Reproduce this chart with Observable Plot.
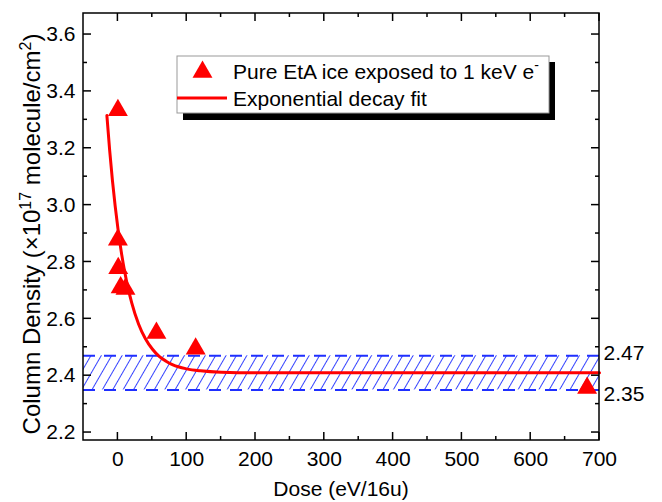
<!DOCTYPE html>
<html><head><meta charset="utf-8">
<script src="https://cdn.jsdelivr.net/npm/d3@7"></script>
<script src="https://cdn.jsdelivr.net/npm/@observablehq/plot@0.6"></script>
<style>body{margin:0;background:#fff}#chart svg{display:block}</style>
</head><body><div id="chart"></div>
<script>
// ---- data ----
const doses = [0, 0, 0.5, 4, 11, 56, 113, 682];
const densities = [3.334, 2.878, 2.778, 2.71, 2.705, 2.55, 2.495, 2.357];
const fitDoses = [-16, -12, -8, -4, 0, 5, 10, 15, 20, 30, 40, 50, 60, 70, 80, 100, 120, 150, 200, 300, 700];
const fitValues = [3.315, 3.193, 3.088, 2.997, 2.918, 2.834, 2.764, 2.706, 2.657, 2.582, 2.530, 2.494, 2.468, 2.451, 2.438, 2.424, 2.417, 2.412, 2.410, 2.410, 2.410];
const bandLow = 2.35;
const bandHigh = 2.47;
const bandLowLabel = "2.35";
const bandHighLabel = "2.47";
const xTicks = [0, 100, 200, 300, 400, 500, 600, 700];
const xMinor = [50, 150, 250, 350, 450, 550, 650];
const yTicks = [2.2, 2.4, 2.6, 2.8, 3.0, 3.2, 3.4, 3.6];
const yMinor = [2.3, 2.5, 2.7, 2.9, 3.1, 3.3, 3.5];
const xDomain = [-50, 700];
const yDomain = [2.172, 3.674];
const legendScatter = "Pure EtA ice exposed to 1 keV e";
const legendScatterSup = "-";
const legendFit = "Exponential decay fit";
const xTitle = "Dose (eV/16u)";

const points = doses.map((d, i) => ({dose: d, value: densities[i]}));
const fit = fitDoses.map((d, i) => ({dose: d, value: fitValues[i]}));

const RED = "#ff0000", BLUE = "#1f2fff", FONT = "'Liberation Sans', Arial, sans-serif";

function hatchDefs() {
  const defs = d3.create("svg:defs");
  const p = defs.append("pattern").attr("id", "hatch").attr("patternUnits", "userSpaceOnUse")
    .attr("width", 9).attr("height", 9).attr("patternTransform", "rotate(30)");
  p.append("line").attr("x1", 4.5).attr("y1", -1).attr("x2", 4.5).attr("y2", 10)
    .attr("stroke", BLUE).attr("stroke-width", 0.9);
  return defs.node();
}

function frameTicks(index, scales, values, dims) {
  const {x, y} = scales;
  const L = dims.marginLeft, T = dims.marginTop, R = dims.width - dims.marginRight, B = dims.height - dims.marginBottom;
  const g = d3.create("svg:g").attr("stroke", "black").attr("stroke-width", 1.5).attr("fill", "none");
  const tick = (x1, y1, x2, y2) => g.append("line").attr("x1", x1).attr("y1", y1).attr("x2", x2).attr("y2", y2);
  for (const t of xTicks) { const px = x(t); tick(px, B, px, B - 8); tick(px, T, px, T + 8); }
  for (const t of xMinor) { const px = x(t); tick(px, B, px, B - 4); tick(px, T, px, T + 4); }
  for (const t of yTicks) { const py = y(t); tick(L, py, L + 8, py); tick(R, py, R - 8, py); }
  for (const t of yMinor) { const py = y(t); tick(L, py, L + 4, py); tick(R, py, R - 4, py); }
  g.append("rect").attr("x", L).attr("y", T).attr("width", R - L).attr("height", B - T);
  return g.node();
}

function titles(index, scales, values, dims) {
  const L = dims.marginLeft, R = dims.width - dims.marginRight;
  const g = d3.create("svg:g").attr("font-family", FONT).attr("fill", "black").attr("text-anchor", "middle");
  g.append("text").attr("x", (L + R) / 2).attr("y", 496).attr("font-size", 21).text(xTitle);
  const t = g.append("text").attr("transform", "translate(40,234) rotate(-90)").attr("font-size", 24);
  t.append("tspan").text("Column Density (\u00d710");
  t.append("tspan").attr("font-size", 16).attr("dy", -9).text("17");
  t.append("tspan").attr("dy", 9).text(" molecule/cm");
  t.append("tspan").attr("font-size", 16).attr("dy", -9).text("2");
  t.append("tspan").attr("dy", 9).text(")");
  return g.node();
}

function legend() {
  const g = d3.create("svg:g").attr("font-family", FONT).attr("font-size", 21).attr("text-anchor", "start");
  g.append("rect").attr("x", 183).attr("y", 62).attr("width", 372).attr("height", 58).attr("fill", "black");
  g.append("rect").attr("x", 177).attr("y", 56).attr("width", 372).attr("height", 57).attr("fill", "white")
    .attr("stroke", "#999").attr("stroke-width", 1);
  g.append("path").attr("transform", "translate(202.5,72)")
    .attr("d", d3.symbol(d3.symbolTriangle, Math.PI * 7.4 * 7.4)()).attr("fill", RED);
  const t1 = g.append("text").attr("x", 233).attr("y", 79);
  t1.append("tspan").text(legendScatter);
  t1.append("tspan").attr("font-size", 14).attr("dy", -9).text(legendScatterSup);
  g.append("line").attr("x1", 177).attr("x2", 227).attr("y1", 98).attr("y2", 98).attr("stroke", RED).attr("stroke-width", 3);
  g.append("text").attr("x", 233).attr("y", 106).text(legendFit);
  return g.node();
}

const chart = Plot.plot({
  width: 662, height: 502,
  marginLeft: 83, marginRight: 63, marginTop: 13, marginBottom: 62,
  style: {fontFamily: FONT, fontSize: "21px", background: "white", color: "black"},
  x: {domain: xDomain},
  y: {domain: yDomain},
  marks: [
    hatchDefs,
    Plot.rect([{y1: bandLow, y2: bandHigh}], {y1: "y1", y2: "y2", fill: "url(#hatch)"}),
    Plot.ruleY([bandLow, bandHigh], {stroke: BLUE, strokeWidth: 2, strokeDasharray: "12,9"}),
    Plot.line(fit, {x: "dose", y: "value", stroke: RED, strokeWidth: 3, curve: "monotone-x"}),
    Plot.dot(points, {x: "dose", y: "value", symbol: "triangle", r: 7.4, fill: RED, stroke: "none"}),
    Plot.text([bandHigh], {x: xDomain[1], y: d => d, text: () => bandHighLabel, textAnchor: "start", dx: 4, dy: -3, fontSize: 21, fill: "black"}),
    Plot.text([bandLow], {x: xDomain[1], y: d => d, text: () => bandLowLabel, textAnchor: "start", dx: 4, dy: 4, fontSize: 21, fill: "black"}),
    Plot.axisX({ticks: xTicks, tickSize: 0, tickPadding: 11, fontSize: 21, label: null, tickFormat: d => String(d)}),
    Plot.axisY({ticks: yTicks, tickSize: 0, tickPadding: 8, fontSize: 21, label: null, tickFormat: d3.format(".1f")}),
    frameTicks,
    titles,
    legend
  ]
});
document.getElementById("chart").append(chart);
</script>
</body></html>
